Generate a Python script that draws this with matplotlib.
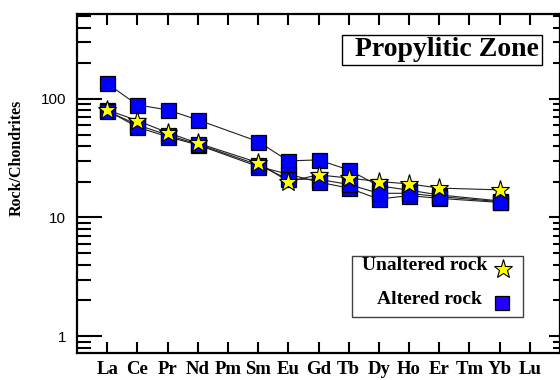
import matplotlib
matplotlib.use("Agg")
import matplotlib.pyplot as plt
from matplotlib.patches import Rectangle
from matplotlib.ticker import LogLocator, NullFormatter, FixedLocator
import numpy as np

elements = ["La", "Ce", "Pr", "Nd", "Pm", "Sm", "Eu", "Gd", "Tb", "Dy", "Ho", "Er", "Tm", "Yb", "Lu"]
plot_elems = ["La", "Ce", "Pr", "Nd", "Sm", "Eu", "Gd", "Tb", "Dy", "Ho", "Er", "Yb"]

unaltered = [80.8, 65.6, 52.0, 42.4, 29.0, 20.1, 22.9, 21.5, 20.1, 19.2, 17.7, 17.1]
altered_a = [135, 89, 80.8, 66.6, 43.7, 30.0, 30.6, 25.2, 18.5, 17.0, 15.5, 13.8]
altered_b = [80.0, 57.8, 48.0, 41.0, 26.9, 23.2, 19.9, 17.7, 14.3, 15.3, 14.5, 13.4]
altered_c = [79.0, 60.5, 49.5, 41.6, 27.8, 21.0, 21.0, 19.0, 16.0, 16.0, 15.0, 13.6]

yticks = [1, 10, 100]
ytick_labels = ["1", "10", "100"]

SERIF = ["Liberation Serif", "DejaVu Serif"]
SANS = ["Liberation Sans", "DejaVu Sans"]

fig = plt.figure(figsize=(5.6, 3.8), dpi=100)
ax = fig.add_axes([77/560, 27/380, 483/560, 339/380])

xpos = [elements.index(e) + 1 for e in plot_elems]

for series in (altered_a, altered_b, altered_c, unaltered):
    ax.plot(xpos, series, color="#202020", lw=0.8, zorder=2)
for series in (altered_a, altered_b, altered_c):
    ax.plot(xpos, series, ls="none", marker="s", ms=10.8, mfc="#0000ff",
            mec="black", mew=0.9, zorder=3)
ax.plot(xpos, unaltered, ls="none", marker="*", ms=14, mfc="#ffff00",
        mec="black", mew=0.8, zorder=4)

ax.set_yscale("log")
ax.set_ylim(0.72, 520)
ax.set_xlim(0, 16)

ax.set_xticks(range(1, len(elements) + 1))
ax.set_xticklabels(elements, family=SERIF, fontweight="bold", fontsize=13.5)
ax.xaxis.set_minor_locator(FixedLocator([]))
ax.tick_params(axis="x", which="major", direction="in", length=8, width=1.5,
               top=True, bottom=True, pad=6)

ax.yaxis.set_major_locator(FixedLocator(yticks))
ax.set_yticklabels(ytick_labels, family=SANS, fontsize=11)
ax.yaxis.set_minor_locator(LogLocator(base=10, subs=np.arange(2, 10)))
ax.yaxis.set_minor_formatter(NullFormatter())
ax.tick_params(axis="y", which="major", direction="in", length=18, width=1.5,
               left=True, right=False, pad=8)
ax.tick_params(axis="y", which="minor", direction="in", length=10, width=1.5,
               left=True, right=False)

ax2 = ax.twinx()
ax2.set_yscale("log")
ax2.set_ylim(ax.get_ylim())
ax2.yaxis.set_major_locator(FixedLocator(yticks))
ax2.yaxis.set_minor_locator(LogLocator(base=10, subs=np.arange(2, 10)))
ax2.yaxis.set_major_formatter(NullFormatter())
ax2.yaxis.set_minor_formatter(NullFormatter())
ax2.tick_params(axis="y", which="major", direction="in", length=8, width=1.5)
ax2.tick_params(axis="y", which="minor", direction="in", length=5, width=1.5)
for s in ax2.spines.values():
    s.set_visible(False)

for s in ax.spines.values():
    s.set_linewidth(1.6)

fig.text(17/560, 1 - 158/380, "Rock/Chondrites", rotation=90, ha="center", va="center",
         family=SERIF, fontweight="bold", fontsize=11.5)

# Title box
fig.patches.append(Rectangle((342/560, 1 - 65/380), 200/560, 30/380, transform=fig.transFigure,
                             fill=True, facecolor="white", edgecolor="black", lw=1.0, zorder=5))
fig.text(446.5/560, 1 - 49/380, "Propylitic Zone", ha="center", va="center",
         family=SERIF, fontweight="bold", fontsize=20, zorder=6)

# Legend box
fig.patches.append(Rectangle((352/560, 1 - 317/380), 171/560, 61/380, transform=fig.transFigure,
                             fill=True, facecolor="white", edgecolor="#404040", lw=1.0, zorder=5))
fig.text(487/560, 1 - 265/380, "Unaltered rock", ha="right", va="center",
         family=SERIF, fontweight="bold", fontsize=14, zorder=6)
fig.text(482/560, 1 - 300/380, "Altered rock", ha="right", va="center",
         family=SERIF, fontweight="bold", fontsize=14, zorder=6)
fig.lines.append(plt.Line2D([503/560], [1 - 269/380], transform=fig.transFigure, ls="none",
                            marker="*", ms=14, mfc="#ffff00", mec="black", mew=0.8, zorder=7))
fig.lines.append(plt.Line2D([502/560], [1 - 303/380], transform=fig.transFigure, ls="none",
                            marker="s", ms=10, mfc="#2200ff", mec="black", mew=0.9, zorder=7))

fig.savefig("out.png", dpi=100)
